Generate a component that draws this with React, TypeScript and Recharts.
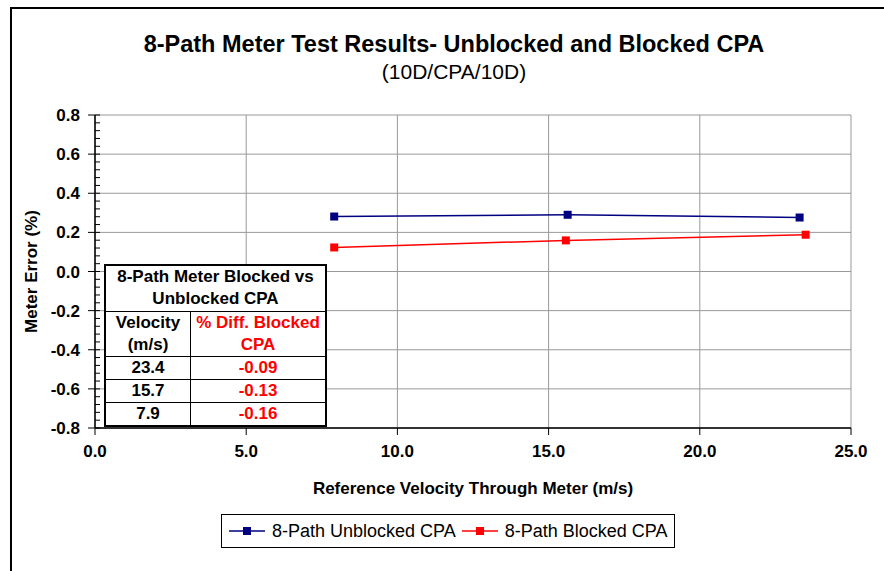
import { CartesianGrid, Legend, Line, LineChart, XAxis, YAxis } from 'recharts'

const X_TICKS = [0, 5, 10, 15, 20, 25]
const Y_TICKS = [-0.8, -0.6, -0.4, -0.2, 0, 0.2, 0.4, 0.6, 0.8]
// minor ticks every 0.04 on the y axis
const Y_MINOR = Array.from({ length: 41 }, (_, i) => Math.round((-0.8 + i * 0.04) * 100) / 100)

const VEL_UNBLOCKED = [7.91, 15.63, 23.3]
const ERR_UNBLOCKED = [0.281, 0.29, 0.276]
const VEL_BLOCKED = [7.91, 15.57, 23.5]
const ERR_BLOCKED = [0.123, 0.159, 0.188]

const TABLE_VEL = ['23.4', '15.7', '7.9']
const TABLE_DIFF = ['-0.09', '-0.13', '-0.16']

const unblocked = VEL_UNBLOCKED.map((v, i) => ({ v, err: ERR_UNBLOCKED[i] }))
const blocked = VEL_BLOCKED.map((v, i) => ({ v, err: ERR_BLOCKED[i] }))

const FONT = 'Arial, "Liberation Sans", sans-serif'
const NAVY = '#000080'
const RED = '#ff0000'

const Square = (color: string) => (props: any) => {
  const { cx, cy } = props
  if (cx == null || cy == null) return null
  return <rect x={cx - 4} y={cy - 4} width={8} height={8} fill={color} />
}

// y ticks: major ones get a label and a crossing tick, minor ones a short inner tick
const YTick = (props: any) => {
  const { x, y, payload } = props
  const val = Number(payload.value)
  const major = Y_TICKS.some((t) => Math.abs(t - val) < 1e-6)
  return (
    <g>
      <line x1={major ? x - 7 : x} y1={y} x2={x + 5} y2={y} stroke="#000" strokeWidth={1} />
      {major && (
        <text
          x={x - 15}
          y={y}
          dy="0.36em"
          textAnchor="end"
          fill="#000"
          fontSize={17}
          fontWeight="bold"
          fontFamily={FONT}
        >
          {val.toFixed(1)}
        </text>
      )}
    </g>
  )
}

const LegendBox = () => (
  <div
    style={{
      width: 452,
      height: 32,
      border: '1px solid #000',
      background: '#fff',
      display: 'flex',
      alignItems: 'center',
      fontFamily: FONT,
      fontSize: 18,
      color: '#000',
    }}
  >
    {[
      { name: '8-Path Unblocked CPA', color: NAVY },
      { name: '8-Path Blocked CPA', color: RED },
    ].map((it, i) => (
      <div key={it.name} style={{ display: 'flex', alignItems: 'center', marginLeft: i === 0 ? 7 : 6 }}>
        <svg width={36} height={10}>
          <line x1={0} y1={5} x2={36} y2={5} stroke={it.color} strokeWidth={1.5} />
          <rect x={14} y={1} width={8} height={8} fill={it.color} />
        </svg>
        <span style={{ marginLeft: 7 }}>{it.name}</span>
      </div>
    ))}
  </div>
)

const cell: React.CSSProperties = {
  border: '1px solid #000',
  padding: 0,
  textAlign: 'center',
  verticalAlign: 'middle',
}

export default function App() {
  return (
    <div style={{ position: 'relative', width: 884, height: 571, background: '#fff', overflow: 'hidden' }}>
      <style>{`body{margin:0}`}</style>
      <div
        style={{
          position: 'absolute',
          left: 10,
          top: 7,
          right: -10,
          bottom: -10,
          borderLeft: '2px solid #000',
          borderTop: '2px solid #000',
        }}
      />
      <div
        style={{
          position: 'absolute',
          left: 0,
          width: 908,
          top: 31,
          textAlign: 'center',
          fontFamily: FONT,
          fontWeight: 'bold',
          fontSize: 23.5,
          color: '#000',
        }}
      >
        8-Path Meter Test Results- Unblocked and Blocked CPA
      </div>
      <div
        style={{
          position: 'absolute',
          left: 0,
          width: 908,
          top: 60,
          textAlign: 'center',
          fontFamily: FONT,
          fontSize: 21,
          color: '#000',
        }}
      >
        (10D/CPA/10D)
      </div>
      <div style={{ position: 'absolute', left: 0, top: 0 }}>
        <LineChart width={884} height={571} margin={{ top: 115, right: 33, bottom: 103, left: 35 }}>
          <CartesianGrid
            stroke="#999"
            strokeWidth={1}
            fill="#fff"
            horizontalValues={Y_TICKS}
            verticalValues={X_TICKS}
          />
          <XAxis
            type="number"
            dataKey="v"
            domain={[0, 25]}
            ticks={X_TICKS}
            allowDataOverflow
            tickFormatter={(t) => Number(t).toFixed(1)}
            tick={{ fill: '#000', fontSize: 17, fontWeight: 'bold', fontFamily: FONT }}
            axisLine={{ stroke: '#000', strokeWidth: 1.5 }}
            tickLine={{ stroke: '#000' }}
            tickSize={7}
            tickMargin={10}
            height={40}
            label={{
              value: 'Reference Velocity Through Meter (m/s)',
              position: 'bottom',
              offset: 14,
              fill: '#000',
              fontSize: 17,
              fontWeight: 'bold',
              fontFamily: FONT,
            }}
          />
          <YAxis
            type="number"
            dataKey="err"
            domain={[-0.8, 0.8]}
            ticks={Y_MINOR}
            interval={0}
            allowDataOverflow
            width={60}
            tick={<YTick />}
            axisLine={{ stroke: '#000', strokeWidth: 1.5 }}
            tickLine={false}
            tickSize={0}
            tickMargin={0}
            label={{
              value: 'Meter Error (%)',
              angle: -90,
              position: 'left',
              offset: 4,
              fill: '#000',
              fontSize: 17,
              fontWeight: 'bold',
              fontFamily: FONT,
              style: { textAnchor: 'middle' },
            }}
          />
          <Line
            data={unblocked}
            dataKey="err"
            name="8-Path Unblocked CPA"
            stroke={NAVY}
            strokeWidth={1.5}
            dot={Square(NAVY)}
            activeDot={false}
            isAnimationActive={false}
          />
          <Line
            data={blocked}
            dataKey="err"
            name="8-Path Blocked CPA"
            stroke={RED}
            strokeWidth={1.5}
            dot={Square(RED)}
            activeDot={false}
            isAnimationActive={false}
          />
          <Legend
            layout="horizontal"
            verticalAlign="middle"
            align="center"
            wrapperStyle={{ left: 221, top: 514, width: 454 }}
            content={() => <LegendBox />}
          />
        </LineChart>
      </div>
      <table
        style={{
          position: 'absolute',
          left: 104,
          top: 264,
          width: 223,
          height: 161,
          borderCollapse: 'collapse',
          border: '2px solid #000',
          background: '#fff',
          fontFamily: FONT,
          fontWeight: 'bold',
          fontSize: 17,
          lineHeight: '22px',
          color: '#000',
        }}
      >
        <tbody>
          <tr style={{ height: 46 }}>
            <td colSpan={2} style={cell}>
              8-Path Meter Blocked vs
              <br />
              Unblocked CPA
            </td>
          </tr>
          <tr style={{ height: 45 }}>
            <td style={{ ...cell, width: 84 }}>
              Velocity
              <br />
              (m/s)
            </td>
            <td style={{ ...cell, color: RED }}>
              % Diff. Blocked
              <br />
              CPA
            </td>
          </tr>
          {TABLE_VEL.map((v, i) => (
            <tr key={v} style={{ height: 23 }}>
              <td style={cell}>{v}</td>
              <td style={{ ...cell, color: RED }}>{TABLE_DIFF[i]}</td>
            </tr>
          ))}
        </tbody>
      </table>
    </div>
  )
}
